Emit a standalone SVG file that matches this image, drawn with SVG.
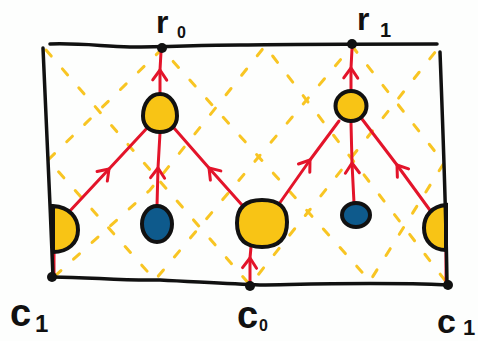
<svg xmlns="http://www.w3.org/2000/svg" width="478" height="341" viewBox="0 0 478 341">
<style>
.dash{fill:none;stroke:#f8c523;stroke-width:3;stroke-linecap:round;stroke-dasharray:8 17}
.edge{fill:none;stroke:#e3142a;stroke-width:3;stroke-linecap:round;stroke-linejoin:round}
.frame{fill:none;stroke:#111;stroke-width:3.5;stroke-linecap:round;stroke-linejoin:round}
.yel{fill:#f8c415;stroke:#111;stroke-width:4}
.blu{fill:#0e5a8c;stroke:#111;stroke-width:4}
.dot{fill:#111}
.lbl{font-family:"Liberation Sans",Arial,sans-serif;fill:#111;font-weight:bold}
</style>
<defs>
<marker id="chev" markerUnits="userSpaceOnUse" orient="auto" markerWidth="24" markerHeight="24" refX="0" refY="0" viewBox="-12 -12 24 24" overflow="visible">
<path d="M-10,-7 L0,0 L-10,7" fill="none" stroke="#e3142a" stroke-width="3" stroke-linecap="round" stroke-linejoin="round"/>
</marker>
</defs>
<rect width="478" height="341" fill="#fdfefd"/>
<g id="pattern">
<path class="dash" d="M162,49 L48,160 L155,280 L352,46"/>
<path class="dash" d="M352,46 L444,163 L370,281 L162,49"/>
<path class="dash" d="M46,50 L250,285 L440,46"/>
<path class="dash" d="M55,276 L150,190 L265,46 L447,283"/>
</g>
<g id="connectors">
<path class="edge" d="M160,95 L160,70 L161,52" marker-mid="url(#chev)"/>
<path class="edge" d="M68,213 L109,169 L148,127" marker-mid="url(#chev)"/>
<path class="edge" d="M157,206 L158,168 L160,133" marker-mid="url(#chev)"/>
<path class="edge" d="M242,205 L209,168 L174,128" marker-mid="url(#chev)"/>
<path class="edge" d="M279,204 L310,160 L339,121" marker-mid="url(#chev)"/>
<path class="edge" d="M354,203 L352,163 L351,123" marker-mid="url(#chev)"/>
<path class="edge" d="M432,213 L397,165 L362,119" marker-mid="url(#chev)"/>
<path class="edge" d="M351,91 L351,68 L352,49" marker-mid="url(#chev)"/>
<path class="edge" d="M250,283 L250,258 L251,247" marker-mid="url(#chev)"/>
<path class="edge" d="M54,275 L54,252"/>
<path class="edge" d="M446,282 L446,251"/>
</g>
<g id="nodeA"><path class="yel" d="M160,94 C170,94 177,104 177,116 C177,126 170,132 160,132 C150,132 143,126 143,116 C143,104 150,94 160,94 Z"/></g>
<g id="nodeB"><ellipse class="yel" cx="351" cy="106" rx="15.5" ry="15"/></g>
<g id="nodeC"><path class="yel" d="M262,200 C280,200 287,208 287,222 C287,238 279,247 262,247 C244,247 237,238 237,223 C237,208 245,200 262,200 Z"/></g>
<g id="nodeL"><path class="yel" d="M53,206 C70,207 78,218 78,230 C78,243 68,252 53,252 Z"/></g>
<g id="nodeR"><path class="yel" d="M446,205 C432,206 424,216 424,228 C424,241 433,250 446,250 Z"/></g>
<g id="blueL"><ellipse class="blu" cx="157" cy="224" rx="15" ry="18"/></g>
<g id="blueR"><ellipse class="blu" cx="356" cy="215" rx="14" ry="12"/></g>
<g id="frame">
<path class="frame" d="M50,44 C80,43 100,46 130,47 C170,47 200,45 240,45 C300,44 380,44 437,44"/>
<path class="frame" d="M43,48 C46,120 50,200 53,277"/>
<path class="frame" d="M440,52 C443,130 446,210 447,284"/>
<path class="frame" d="M52,277 C90,277 120,281 160,280 C200,282 230,284 260,285 C320,284 380,282 448,285"/>
</g>
<g id="dots">
<circle class="dot" cx="162" cy="48" r="5"/>
<circle class="dot" cx="352" cy="44" r="5"/>
<circle class="dot" cx="52" cy="277" r="5"/>
<circle class="dot" cx="250" cy="286" r="5"/>
<circle class="dot" cx="448" cy="285" r="5"/>
</g>
<g id="labels">
<text class="lbl" x="156" y="33" font-size="32">r</text>
<text class="lbl" x="177" y="38" font-size="16">0</text>
<text class="lbl" x="357" y="30" font-size="32">r</text>
<text class="lbl" x="380" y="37" font-size="20">1</text>
<text class="lbl" x="10" y="326" font-size="38">c</text>
<text class="lbl" x="35" y="332" font-size="24">1</text>
<text class="lbl" x="237" y="328" font-size="38">c</text>
<text class="lbl" x="259" y="331" font-size="16">0</text>
<text class="lbl" x="437" y="333" font-size="34">c</text>
<text class="lbl" x="463" y="335" font-size="22">1</text>
</g>
</svg>
